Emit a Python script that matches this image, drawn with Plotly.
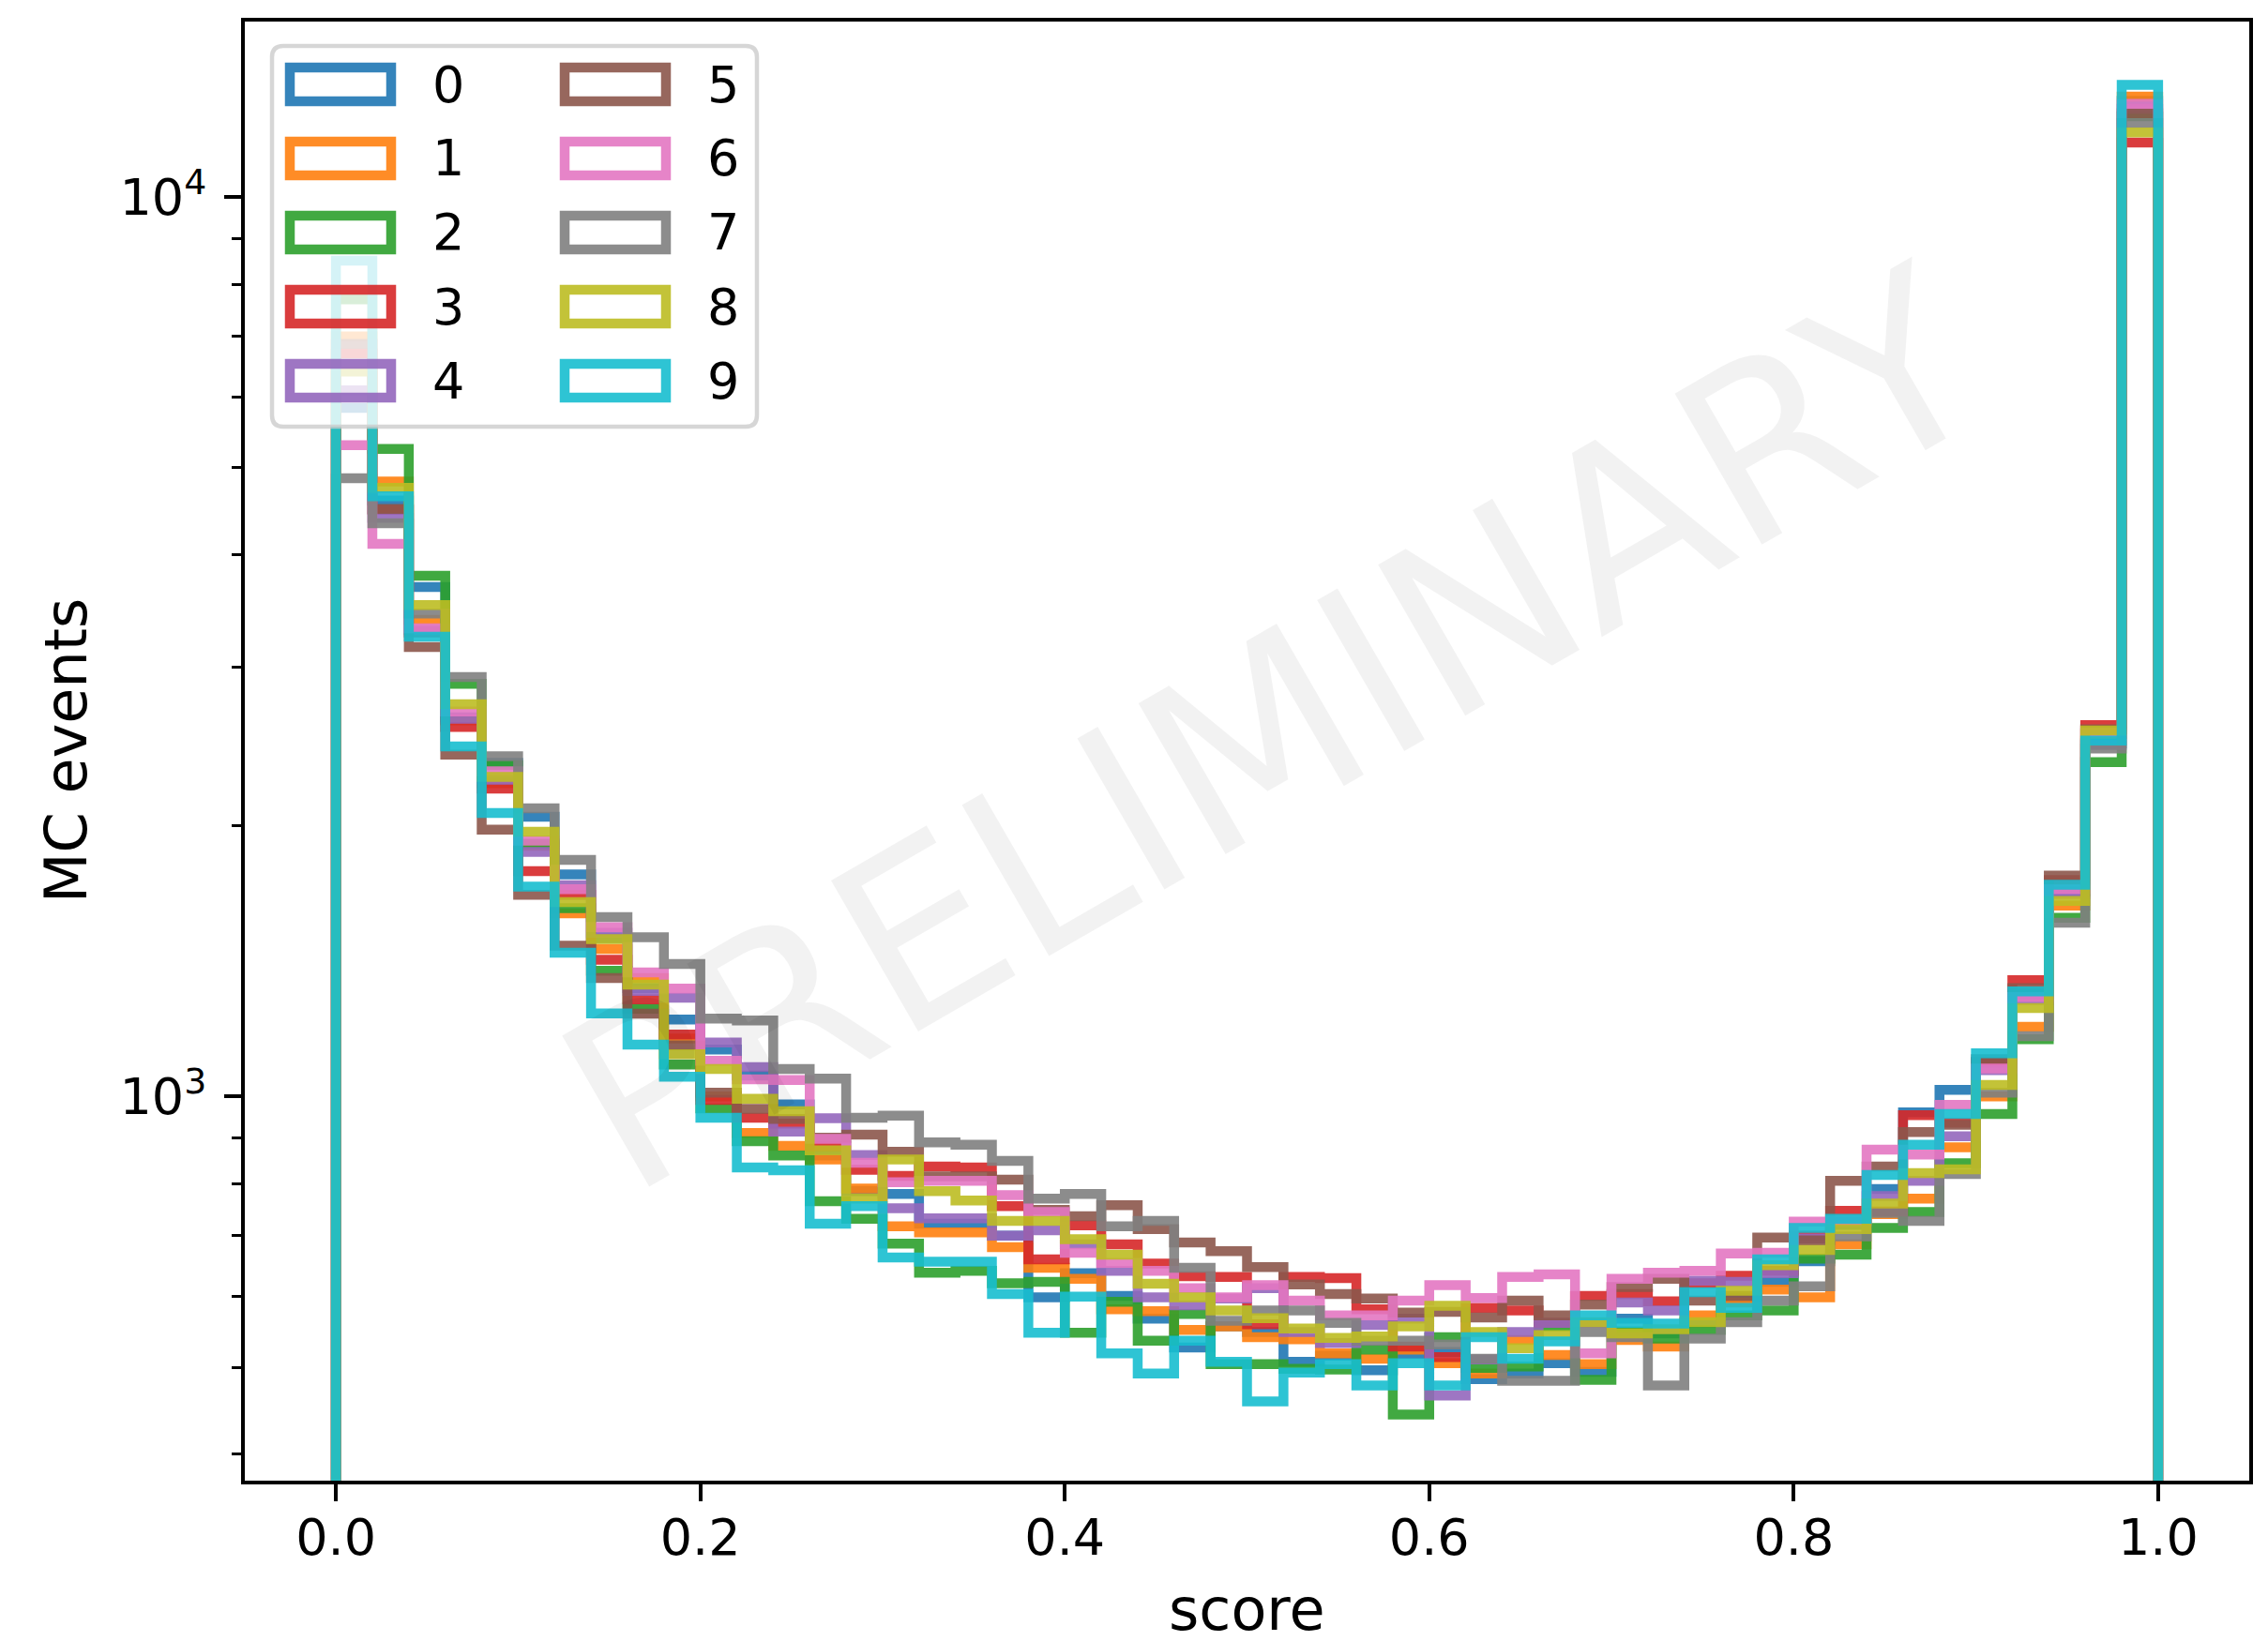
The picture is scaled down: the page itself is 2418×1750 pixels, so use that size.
import numpy as np
import plotly.graph_objects as go

# ---------------- data ----------------
score_min, score_max, n_bins = 0.0, 1.0, 50
series_names = ["0", "1", "2", "3", "4", "5", "6", "7", "8", "9"]
series_colors = ["#1f77b4", "#ff7f0e", "#2ca02c", "#d62728", "#9467bd",
                 "#8c564b", "#e377c2", "#7f7f7f", "#bcbd22", "#17becf"]

counts_0 = [5830, 4600, 3685, 2640, 2350, 2047, 1766, 1500, 1320, 1218, 1128, 1055, 980, 860, 785, 779, 722, 722, 700, 598,
            636, 600, 566, 526, 555, 547, 507, 515, 496, 517, 520, 485, 492, 505, 494, 566, 545, 560, 597, 622,
            656, 720, 789, 960, 1017, 1093, 1300, 1690, 2470, 12800]
counts_1 = [7000, 4830, 3388, 2620, 2230, 1900, 1598, 1459, 1354, 1160, 1000, 911, 881, 851, 790, 717, 706, 706, 680, 645,
            627, 580, 577, 550, 555, 540, 537, 518, 511, 523, 505, 492, 536, 516, 504, 536, 527, 571, 590, 610,
            598, 685, 740, 770, 878, 1000, 1195, 1630, 2530, 12940]
counts_2 = [7700, 5250, 3793, 2877, 2335, 1910, 1620, 1380, 1252, 1085, 970, 892, 860, 765, 731, 686, 637, 640, 620, 622,
            546, 591, 535, 573, 504, 504, 498, 497, 523, 443, 540, 499, 501, 555, 484, 548, 538, 550, 571, 578,
            660, 667, 714, 744, 843, 956, 1158, 1580, 2354, 12300]
counts_3 = [6700, 4490, 3280, 2575, 2199, 1781, 1676, 1419, 1282, 1172, 991, 947, 933, 880, 829, 816, 836, 834, 755, 659,
            719, 685, 652, 631, 630, 558, 630, 628, 580, 527, 513, 582, 578, 560, 600, 603, 592, 620, 632, 640,
            700, 746, 745, 953, 935, 1090, 1347, 1740, 2588, 11500]
counts_4 = [6100, 4400, 3300, 2630, 2250, 1870, 1718, 1521, 1310, 1288, 1148, 1078, 914, 946, 861, 751, 732, 732, 700, 710,
            685, 640, 598, 586, 596, 612, 547, 532, 557, 566, 465, 510, 547, 560, 560, 590, 578, 624, 622, 636,
            695, 725, 775, 806, 903, 1070, 1280, 1680, 2460, 12540]
counts_5 = [6870, 4500, 3160, 2400, 1980, 1676, 1471, 1354, 1236, 1140, 1010, 969, 944, 900, 907, 868, 815, 815, 808, 748,
            736, 757, 712, 688, 673, 646, 618, 603, 596, 575, 576, 568, 593, 571, 587, 614, 627, 593, 600, 697,
            692, 806, 836, 913, 930, 1100, 1320, 1760, 2560, 12400]
counts_6 = [5300, 4117, 3317, 2680, 2300, 1925, 1700, 1543, 1374, 1318, 1096, 1045, 1043, 897, 844, 803, 806, 806, 777, 744,
            670, 653, 640, 612, 598, 617, 593, 571, 571, 593, 617, 597, 630, 634, 518, 627, 637, 640, 669, 670,
            726, 728, 873, 862, 979, 1074, 1290, 1700, 2540, 12700]
counts_7 = [4870, 4340, 3444, 2927, 2390, 2091, 1833, 1583, 1503, 1404, 1221, 1215, 1073, 1047, 947, 952, 889, 884, 848, 770,
            779, 717, 727, 645, 563, 578, 578, 560, 535, 535, 530, 511, 483, 483, 547, 540, 477, 538, 561, 593,
            615, 699, 742, 727, 820, 1010, 1167, 1560, 2438, 12090]
counts_8 = [6400, 4750, 3520, 2730, 2266, 1970, 1645, 1496, 1332, 1114, 1073, 994, 963, 871, 770, 851, 785, 766, 727, 727,
            694, 667, 619, 598, 578, 567, 552, 539, 541, 555, 585, 547, 525, 543, 561, 545, 551, 561, 608, 649,
            675, 712, 760, 822, 830, 1030, 1254, 1650, 2552, 11800]
counts_9 = [8500, 4650, 3245, 2450, 2066, 1712, 1445, 1237, 1142, 1052, 947, 834, 828, 722, 755, 662, 655, 655, 603, 546,
            599, 518, 492, 535, 507, 458, 493, 504, 477, 505, 477, 540, 511, 534, 571, 560, 559, 606, 582, 659,
            714, 731, 818, 884, 956, 1117, 1309, 1720, 2487, 13330]

all_counts = [counts_0, counts_1, counts_2, counts_3, counts_4,
              counts_5, counts_6, counts_7, counts_8, counts_9]

x_ticks = [0.0, 0.2, 0.4, 0.6, 0.8, 1.0]
y_ticks = [1000, 10000]
y_tick_text = ["10<sup>3</sup>", "10<sup>4</sup>"]
x_title = "score"
y_title = "MC events"
watermark = "PRELIMINARY"

# ---------------- layout constants (pixels, figure coordinates) ----------------
W, H = 2418, 1750
OFF = 8                                  # page body margin offset
PL, PR, PT, PB = 261 - OFF, 2398 - OFF, 23 - OFF, 1579 - OFF   # plot area
FONT = "DejaVu Sans"
BASELINE = 1.0   # histogram floor (log axis -> off-plot, clipped)


def rgba(hx, a=0.9):
    hx = hx.lstrip("#")
    r, g, b = int(hx[0:2], 16), int(hx[2:4], 16), int(hx[4:6], 16)
    return f"rgba({r},{g},{b},{a})"


# helpers take PAGE pixel coordinates (as measured on the reference)
def px_x(p):
    return (p - OFF - PL) / (PR - PL)


def px_y(p):
    return (PB - (p - OFF)) / (PB - PT)


edges = np.linspace(score_min, score_max, n_bins + 1)

fig = go.Figure()
for name, col, cnt in zip(series_names, series_colors, all_counts):
    xs = [edges[0]] + list(edges[:-1]) + [edges[-1], edges[-1]]
    ys = [BASELINE] + list(cnt) + [cnt[-1], BASELINE]
    fig.add_trace(go.Scatter(
        x=xs, y=ys, mode="lines", name=name,
        line=dict(color=rgba(col), width=10.5, shape="hv"),
        showlegend=False, hoverinfo="skip"))

fig.update_layout(
    width=W, height=H,
    margin=dict(l=PL, r=W - PR, t=PT, b=H - PB),
    paper_bgcolor="white", plot_bgcolor="white",
    font=dict(family=FONT, size=54, color="black"),
    showlegend=False,
)

fig.update_xaxes(
    range=[-0.05, 1.05], tickvals=x_ticks, tickformat=".1f",
    ticks="outside", ticklen=18, tickwidth=4, tickcolor="black",
    showline=True, linewidth=4, linecolor="black", mirror=True,
    showgrid=False, zeroline=False, tickfont=dict(size=54, family=FONT),
    ticklabelstandoff=-8,
)
fig.update_yaxes(
    type="log", range=[2.5728, 4.1953], tickvals=y_ticks, ticktext=y_tick_text,
    ticks="outside", ticklen=18, tickwidth=4, tickcolor="black",
    showline=True, linewidth=4, linecolor="black", mirror=True,
    showgrid=False, zeroline=False, tickfont=dict(size=54, family=FONT),
    minor=dict(ticks="outside", ticklen=10, tickwidth=3, tickcolor="black",
               dtick="D1", showgrid=False),
    ticklabelstandoff=8,
)

annotations = []
shapes = []

# watermark
annotations.append(dict(
    text=watermark, x=px_x(1357), y=px_y(779), xref="paper", yref="paper",
    showarrow=False, textangle=-30, font=dict(size=255, family=FONT, color="rgba(0,0,0,0.05)"),
    xanchor="center", yanchor="middle"))

# axis titles
annotations.append(dict(
    text=x_title, x=0.5, y=px_y(1716), xref="paper", yref="paper",
    showarrow=False, font=dict(size=62, family=FONT), xanchor="center", yanchor="middle"))
annotations.append(dict(
    text=y_title, x=px_x(70), y=px_y(801), xref="paper", yref="paper",
    showarrow=False, textangle=-90, font=dict(size=62, family=FONT),
    xanchor="center", yanchor="middle"))

# legend frame (rounded)
lx0, lx1, ly0, ly1, rad = 290, 807, 49, 455, 12
path = (f"M {px_x(lx0 + rad)},{px_y(ly0)} L {px_x(lx1 - rad)},{px_y(ly0)} "
        f"Q {px_x(lx1)},{px_y(ly0)} {px_x(lx1)},{px_y(ly0 + rad)} "
        f"L {px_x(lx1)},{px_y(ly1 - rad)} Q {px_x(lx1)},{px_y(ly1)} {px_x(lx1 - rad)},{px_y(ly1)} "
        f"L {px_x(lx0 + rad)},{px_y(ly1)} Q {px_x(lx0)},{px_y(ly1)} {px_x(lx0)},{px_y(ly1 - rad)} "
        f"L {px_x(lx0)},{px_y(ly0 + rad)} Q {px_x(lx0)},{px_y(ly0)} {px_x(lx0 + rad)},{px_y(ly0)} Z")
shapes.append(dict(type="path", path=path, xref="paper", yref="paper",
                   line=dict(color="rgba(204,204,204,0.8)", width=4.5),
                   fillcolor="rgba(255,255,255,0.8)", layer="above"))

col_cx = [363, 656]
col_tx = [459, 752]
row_cy0, row_dy = 90, 79
for i, (name, col) in enumerate(zip(series_names, series_colors)):
    c, r = divmod(i, 5)
    cx, cy = col_cx[c], row_cy0 + r * row_dy
    shapes.append(dict(type="rect", xref="paper", yref="paper",
                       x0=px_x(cx - 54), x1=px_x(cx + 54), y0=px_y(cy + 18), y1=px_y(cy - 18),
                       line=dict(color=rgba(col), width=10.5), fillcolor="rgba(0,0,0,0)", layer="above"))
    annotations.append(dict(text=name, x=px_x(col_tx[c]), y=px_y(cy), xref="paper", yref="paper",
                            showarrow=False, xanchor="left", yanchor="middle",
                            font=dict(size=54, family=FONT)))

fig.update_layout(annotations=annotations, shapes=shapes)
fig.write_html("out.html")
